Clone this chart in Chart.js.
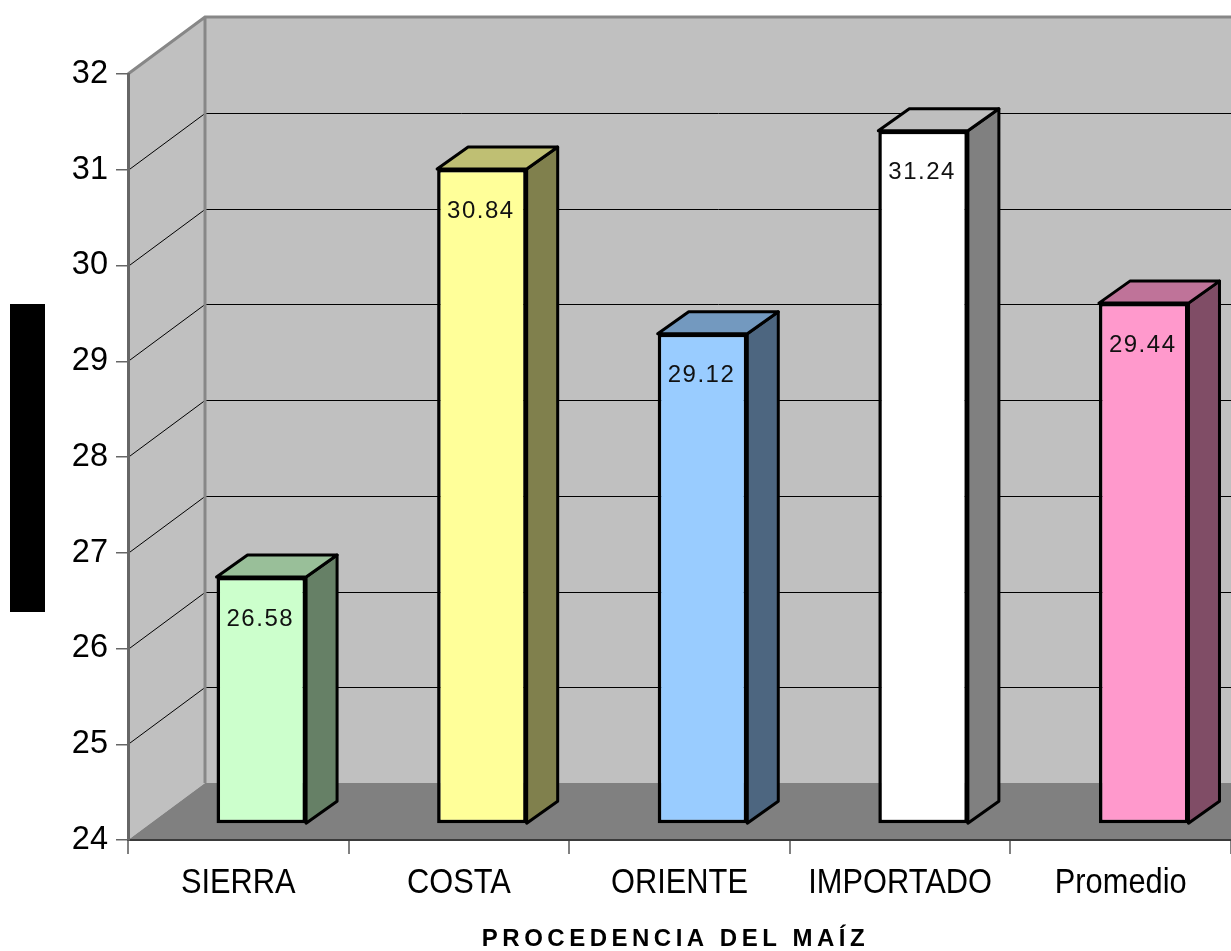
<!DOCTYPE html>
<html>
<head>
<meta charset="utf-8">
<script src="https://cdn.jsdelivr.net/npm/chart.js@4/dist/chart.umd.min.js"></script>
<style>
  html, body { margin: 0; padding: 0; background: #fff; }
  #wrap { width: 1231px; height: 951px; }
</style>
</head>
<body>
<div id="wrap"><canvas id="grafica"></canvas></div>
<script>
// Datos
const categorias = ["SIERRA", "COSTA", "ORIENTE", "IMPORTADO", "Promedio"];
const valores = [26.58, 30.84, 29.12, 31.24, 29.44];
const coloresBarra = ["#CCFFCC", "#FFFF99", "#99CCFF", "#FFFFFF", "#FF99CC"];
const escalaMin = 24;
const escalaMax = 32;
const tituloX = "PROCEDENCIA DEL MAÍZ";

// Perspectiva del fondo y de las barras
const FONDO_DX = 77, FONDO_DY = -57;
const BARRA_DX = 23, BARRA_DY = -16;
const PROF_DX = 31, PROF_DY = -22;

// Oscurecer un color hex
function sombra(hex, f) {
  const n = parseInt(hex.slice(1), 16);
  const r = Math.round(((n >> 16) & 255) * f);
  const g = Math.round(((n >> 8) & 255) * f);
  const b = Math.round((n & 255) * f);
  return `rgb(${r},${g},${b})`;
}

function poligono(ctx, pts, relleno, trazo, ancho) {
  ctx.beginPath();
  ctx.moveTo(pts[0][0], pts[0][1]);
  for (let i = 1; i < pts.length; i++) ctx.lineTo(pts[i][0], pts[i][1]);
  ctx.closePath();
  if (relleno) { ctx.fillStyle = relleno; ctx.fill(); }
  if (trazo) { ctx.strokeStyle = trazo; ctx.lineWidth = ancho; ctx.stroke(); }
}

// Paredes, piso y rejilla en 3D
const fondo3d = {
  id: "fondo3d",
  beforeDraw(chart) {
    const { ctx, scales: { x, y } } = chart;
    const izq = x.left, der = x.right;
    const yTop = y.getPixelForValue(escalaMax);
    const yBase = y.getPixelForValue(escalaMin);
    ctx.save();

    // pared del fondo
    ctx.fillStyle = "#C0C0C0";
    ctx.fillRect(izq + FONDO_DX, yTop + FONDO_DY, der - izq + 10, yBase - yTop);
    // pared izquierda
    poligono(ctx, [[izq, yTop], [izq + FONDO_DX, yTop + FONDO_DY], [izq + FONDO_DX, yBase + FONDO_DY], [izq, yBase]], "#C0C0C0");
    // piso
    poligono(ctx, [[izq, yBase], [izq + FONDO_DX, yBase + FONDO_DY], [der + FONDO_DX, yBase + FONDO_DY], [der, yBase]], "#808080");

    // líneas de división
    ctx.strokeStyle = "#000";
    ctx.lineWidth = 1;
    for (let v = escalaMin + 1; v < escalaMax; v++) {
      const py = Math.round(y.getPixelForValue(v)) + 0.5;
      ctx.beginPath();
      ctx.moveTo(izq, py);
      ctx.lineTo(izq + FONDO_DX, py + FONDO_DY);
      ctx.lineTo(der + FONDO_DX, py + FONDO_DY);
      ctx.stroke();
    }

    // bordes de las paredes
    ctx.strokeStyle = "#878787";
    ctx.lineWidth = 3;
    ctx.beginPath();
    ctx.moveTo(izq, yTop);
    ctx.lineTo(izq + FONDO_DX, yTop + FONDO_DY);
    ctx.lineTo(der + FONDO_DX, yTop + FONDO_DY);
    ctx.moveTo(izq + FONDO_DX, yTop + FONDO_DY);
    ctx.lineTo(izq + FONDO_DX, yBase + FONDO_DY);
    ctx.stroke();

    // cuadro del título vertical
    ctx.fillStyle = "#000";
    ctx.fillRect(10, 304, 35, 308);
    ctx.restore();
  },
  beforeDatasetsDraw(chart) {
    const ctx = chart.ctx;
    const meta = chart.getDatasetMeta(0);
    ctx.save();
    ctx.translate(BARRA_DX, BARRA_DY);
    ctx.lineJoin = "round";
    meta.data.forEach((barra, i) => {
      const x0 = barra.x - barra.width / 2, x1 = barra.x + barra.width / 2;
      const y0 = barra.y, y1 = barra.base;
      const c = coloresBarra[i];
      // cara lateral
      poligono(ctx, [[x1, y0], [x1 + PROF_DX, y0 + PROF_DY], [x1 + PROF_DX, y1 + PROF_DY], [x1, y1]], sombra(c, 0.5), "#000", 3);
      // cara superior
      poligono(ctx, [[x0, y0], [x0 + PROF_DX, y0 + PROF_DY], [x1 + PROF_DX, y0 + PROF_DY], [x1, y0]], sombra(c, 0.75), "#000", 3);
    });
    // el frente lo dibuja Chart.js con el mismo desplazamiento
  },
  afterDatasetsDraw(chart) {
    const ctx = chart.ctx;
    ctx.restore();
    const meta = chart.getDatasetMeta(0);
    ctx.save();
    ctx.fillStyle = "#111";
    ctx.font = "24px Arial, 'Liberation Sans', sans-serif";
    ctx.letterSpacing = "1.5px";
    ctx.textAlign = "center";
    ctx.textBaseline = "middle";
    meta.data.forEach((barra, i) => {
      ctx.fillText(valores[i].toFixed(2), barra.x + BARRA_DX - 1, barra.y + BARRA_DY + 42);
    });
    ctx.restore();
  },
  afterDraw(chart) {
    const { ctx, scales: { x } } = chart;
    ctx.save();
    ctx.fillStyle = "#000";
    ctx.textAlign = "center";
    ctx.textBaseline = "alphabetic";
    // etiquetas de categoría (letra algo comprimida)
    ctx.font = "35px Arial, 'Liberation Sans', sans-serif";
    categorias.forEach((cat, i) => {
      const px = x.getPixelForValue(i);
      ctx.save();
      ctx.translate(px, 893);
      ctx.scale(0.88, 1);
      ctx.fillText(cat, 0, 0);
      ctx.restore();
    });
    // título del eje X
    ctx.font = "bold 24px Arial, 'Liberation Sans', sans-serif";
    ctx.letterSpacing = "4.5px";
    ctx.fillText(tituloX, (x.left + x.right) / 2 - 4, 946);
    ctx.restore();
  }
};

const ctx = document.getElementById("grafica").getContext("2d");
const grafica = new Chart(ctx, {
  type: "bar",
  data: {
    labels: categorias,
    datasets: [{
      data: valores,
      base: escalaMin,
      backgroundColor: coloresBarra,
      borderColor: "#000",
      borderWidth: 3.5,
      borderSkipped: false,
      barPercentage: 0.406,
      categoryPercentage: 1
    }]
  },
  options: {
    responsive: true,
    maintainAspectRatio: false,
    animation: false,
    events: [],
    layout: { padding: { top: 74, right: -5, bottom: 0, left: 0 } },
    plugins: {
      legend: { display: false },
      tooltip: { enabled: false }
    },
    scales: {
      x: {
        afterFit: s => { s.height = 111; },
        border: { color: "#3a3a3a", width: 2 },
        grid: { drawOnChartArea: false, color: "#808080", lineWidth: 2, tickLength: 14 },
        ticks: { display: false }
      },
      y: {
        min: escalaMin,
        max: escalaMax,
        afterFit: s => { s.width = 128; },
        border: { color: "#666", width: 3 },
        grid: { drawOnChartArea: false, color: "#666", lineWidth: 1.5, tickLength: 12 },
        ticks: {
          stepSize: 1,
          padding: 8,
          color: "#000",
          font: { family: "Arial, 'Liberation Sans', sans-serif", size: 32.5 }
        }
      }
    }
  },
  plugins: [fondo3d]
});
</script>
</body>
</html>
